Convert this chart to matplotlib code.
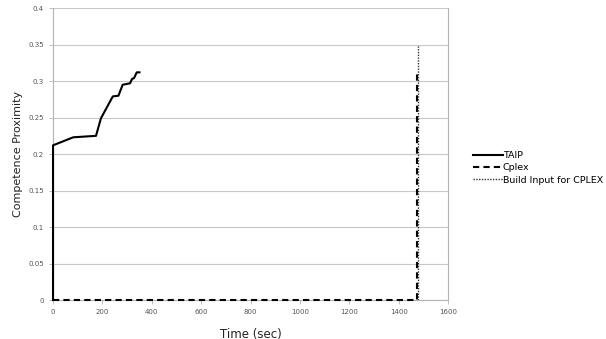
import matplotlib
matplotlib.use("Agg")
import matplotlib.pyplot as plt
from matplotlib.lines import Line2D

# TAIP curve (time in sec, competence proximity)
taip_t = [0, 0, 82, 174, 194, 242, 265, 282, 312, 320, 328, 339, 350]
taip_v = [0, 0.212, 0.223, 0.225, 0.249, 0.279, 0.280, 0.295, 0.297, 0.303, 0.304, 0.312, 0.312]

# Cplex: zero until it finishes
cplex_t = [0, 1475, 1475]
cplex_v = [0, 0, 0.312]

# building the CPLEX input
build_t = [1478, 1478]
build_v = [0, 0.35]

xticks = [0, 200, 400, 600, 800, 1000, 1200, 1400, 1600]
yticks = [0, 0.05, 0.1, 0.15, 0.2, 0.25, 0.3, 0.35, 0.4]

fig = plt.figure(figsize=(6.06, 3.39), dpi=100)
ax = fig.add_axes([0.0875, 0.115, 0.652, 0.861])

ax.plot(taip_t, taip_v, color="black", lw=1.5, label="TAIP", clip_on=False, zorder=4)
ax.plot(cplex_t, cplex_v, color="black", lw=1.5, ls=(0, (3, 2)), label="Cplex",
        clip_on=False, zorder=3)
ax.plot(build_t, build_v, color="#333333", lw=1.0, ls=(0, (1, 1)),
        label="Build Input for CPLEX", zorder=3)

ax.set_xlim(0, 1600)
ax.set_ylim(0, 0.4)
ax.set_xticks(xticks)
ax.set_yticks(yticks)
ax.set_xticklabels([str(x) for x in xticks])
ax.set_yticklabels(["0", "0.05", "0.1", "0.15", "0.2", "0.25", "0.3", "0.35", "0.4"])
ax.tick_params(labelsize=5, colors="#b3b3b3", labelcolor="#555555", length=3, width=0.6)
ax.yaxis.grid(True, color="#c8c8c8", lw=0.8)
ax.set_axisbelow(True)
for s in ax.spines.values():
    s.set_color("#b3b3b3")
    s.set_linewidth(0.8)
ax.spines["top"].set_visible(False)

ax.set_xlabel("Time (sec)", fontsize=8.5, color="#222222", labelpad=9)
ax.set_ylabel("Competence Proximity", fontsize=8, color="#222222", labelpad=4)

handles = [Line2D([], [], color="black", lw=1.5),
           Line2D([], [], color="black", lw=1.5, ls=(0, (3, 2))),
           Line2D([], [], color="#333333", lw=1.0, ls=(0, (1, 1)))]
fig.legend(handles, ["TAIP", "Cplex", "Build Input for CPLEX"], loc="center left",
           bbox_to_anchor=(0.78, 0.505), frameon=False, fontsize=6.8,
           handlelength=3.2, handletextpad=0.0, labelspacing=0.35,
           borderaxespad=0, borderpad=0)

fig.savefig("out.png", dpi=100)
